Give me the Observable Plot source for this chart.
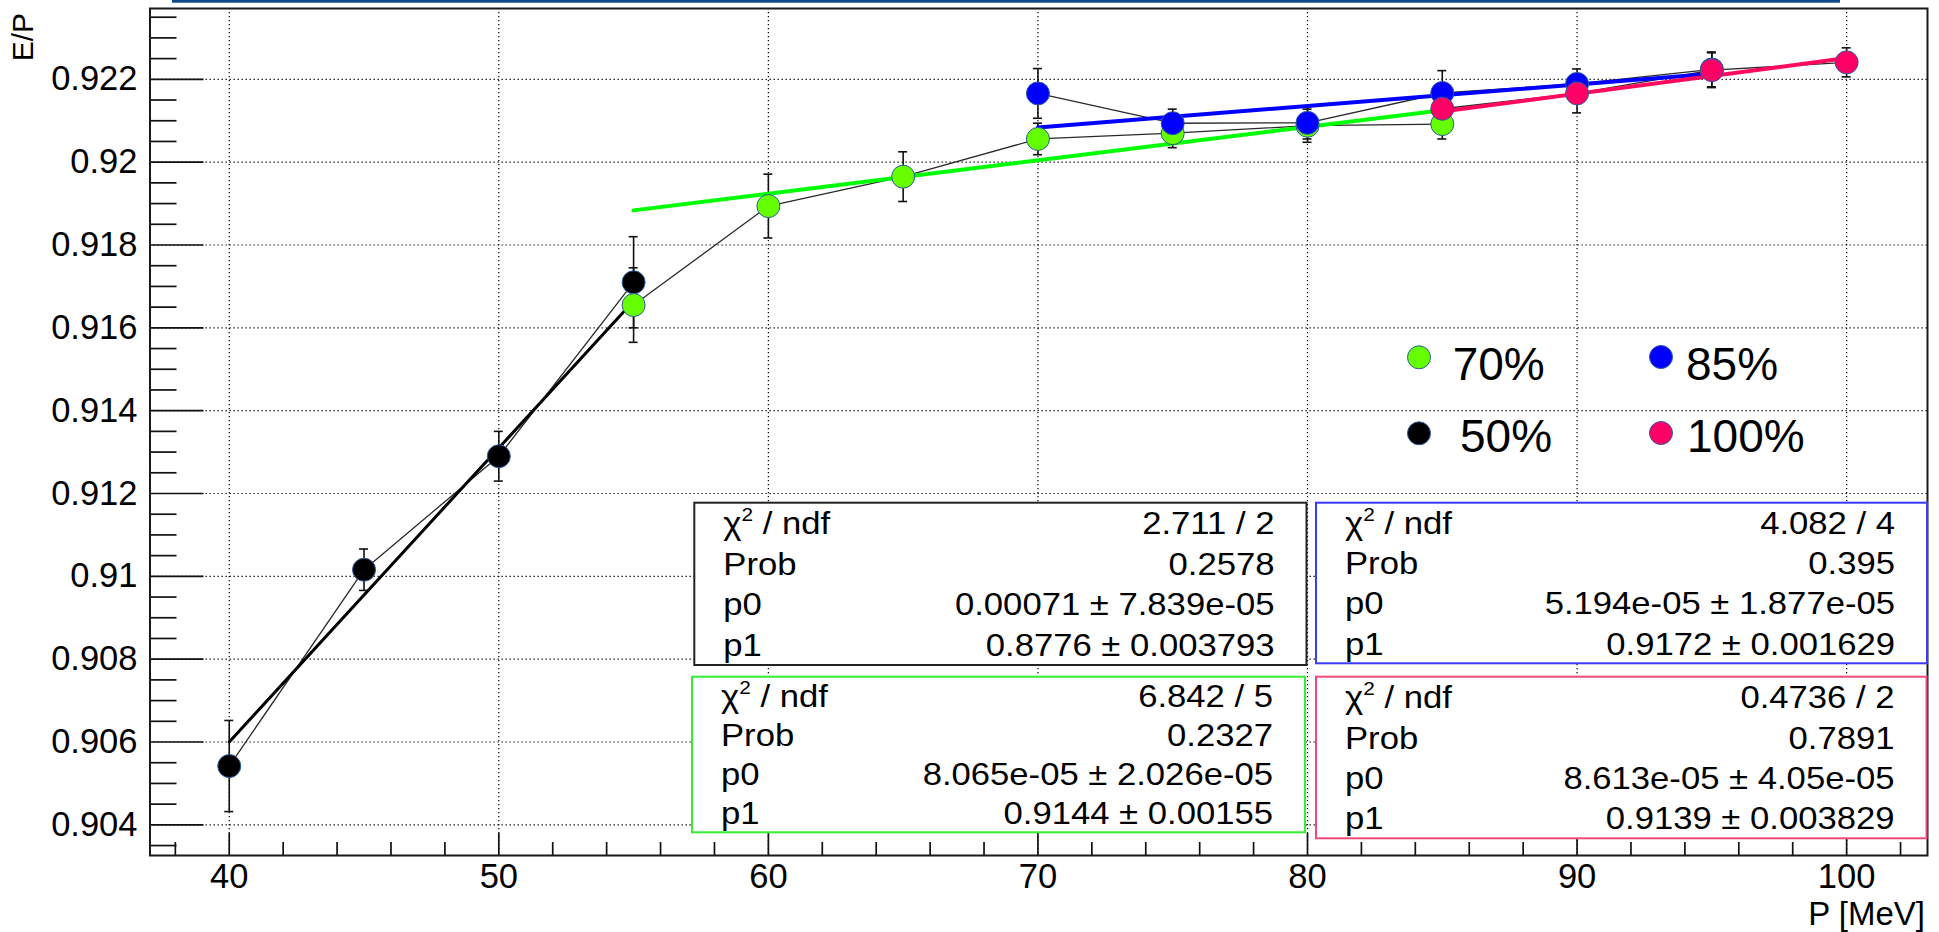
<!DOCTYPE html>
<html>
<head>
<meta charset="utf-8">
<script src="https://cdn.jsdelivr.net/npm/d3@7"></script>
<script src="https://cdn.jsdelivr.net/npm/@observablehq/plot@0.6"></script>
<style>
  body { margin: 0; background: #fff; }
  #chart { position: relative; width: 1939px; height: 932px; overflow: hidden;
           font-family: "Liberation Sans", Arial, Helvetica, sans-serif; }
  #chart svg { position: absolute; left: 0; top: 0; }
</style>
</head>
<body>
<div id="chart"></div>
<script>
// E/P versus beam momentum for four threshold settings, each with a linear fit
const series    = ["50%", "70%", "85%", "100%"];
const colors    = ["#000000", "#66ff00", "#0000ff", "#ff0066"];
const fitColors = ["#000000", "#00ff00", "#0000ff", "#ff0a5e"];
const boxColors = ["#222222", "#33ee33", "#3a3aff", "#ee4a78"];

const P50  = [40, 45, 50, 55];
const E50  = [0.90542, 0.91016, 0.91290, 0.91710];
const dE50 = [0.0011, 0.0005, 0.0006, 0.0011];

const P70  = [55, 60, 65, 70, 75, 80, 85];
const E70  = [0.91655, 0.91894, 0.91965, 0.92056, 0.92070, 0.92088, 0.92092];
const dE70 = [0.0009, 0.00077, 0.0006, 0.00038, 0.00035, 0.0004, 0.00036];

const P85  = [70, 75, 80, 85, 90, 95];
const E85  = [0.92166, 0.92094, 0.92095, 0.92167, 0.92189, 0.92224];
const dE85 = [0.0006, 0.00034, 0.00039, 0.00054, 0.00036, 0.00042];

const P100  = [85, 90, 95, 100];
const E100  = [0.92129, 0.92166, 0.92222, 0.92241];
const dE100 = [0.0004, 0.00047, 0.00042, 0.00035];

// fit results: E/P = p1 + p0 * P, over [fitLo, fitHi]
const fitLo     = [40, 55, 70, 85];
const fitHi     = [55, 85, 95, 100];
const chi2Text  = ["2.711 / 2", "6.842 / 5", "4.082 / 4", "0.4736 / 2"];
const probText  = ["0.2578", "0.2327", "0.395", "0.7891"];
const p0        = [0.00071, 8.065e-05, 5.194e-05, 8.613e-05];
const p0Text    = ["0.00071", "8.065e-05", "5.194e-05", "8.613e-05"];
const p0ErrText = ["7.839e-05", "2.026e-05", "1.877e-05", "4.05e-05"];
const p1        = [0.8776, 0.9144, 0.9172, 0.9139];
const p1Text    = ["0.8776", "0.9144", "0.9172", "0.9139"];
const p1ErrText = ["0.003793", "0.00155", "0.001629", "0.003829"];

const xTicks = [40, 50, 60, 70, 80, 90, 100];
const yTicks = [0.904, 0.906, 0.908, 0.910, 0.912, 0.914, 0.916, 0.918, 0.920, 0.922];

// ---- tables for the marks ----
const Ps = [P50, P70, P85, P100], Es = [E50, E70, E85, E100], dEs = [dE50, dE70, dE85, dE100];
const rows = series.flatMap((s, i) => Ps[i].map((p, j) => ({series: s, idx: i, P: p, E: Es[i][j], dE: dEs[i][j]})));
const fitRows = series.flatMap((s, i) => [fitLo[i], fitHi[i]].map(p => ({series: s, idx: i, P: p, E: p1[i] + p0[i] * p})));

// minor tick positions (every 2 MeV on x, every 0.0005 on y)
const xMinor = d3.range(38, 103, 2).filter(v => !xTicks.includes(v));
const yMinor = d3.range(1807, 1848).filter(k => k % 4 !== 0).map(k => k * 0.0005);

// ---- layout ----
const W = 1939, H = 932;
const mL = 149.5, mR = 12, mT = 8, mB = 77;
const frameW = W - mL - mR, frameH = H - mT - mB;

const tickStyle = {stroke: "#111", strokeWidth: 1.7};
const gridStyle = {stroke: "#000", strokeWidth: 1.2, strokeDasharray: "1.3,2.7"};

const chart = Plot.plot({
  width: W, height: H,
  marginLeft: mL, marginRight: mR, marginTop: mT, marginBottom: mB,
  style: {fontSize: "34.5px", fontFamily: "Liberation Sans, Arial, sans-serif", background: "transparent", color: "#000"},
  x: {domain: [37.06, 103.0], ticks: xTicks, tickSize: 0, tickPadding: 8, label: null},
  y: {domain: [0.90326, 0.92371], ticks: yTicks, tickSize: 0, tickPadding: 12.5, label: null,
      tickFormat: d => String(+d.toFixed(3))},
  marks: [
    Plot.ruleX(xTicks, gridStyle),
    Plot.ruleY(yTicks, gridStyle),
    Plot.ruleX(xMinor, {...tickStyle, insetTop: frameH - 13}),
    Plot.ruleX(xTicks, {...tickStyle, insetTop: frameH - 22}),
    Plot.ruleY(yMinor, {...tickStyle, insetRight: frameW - 27}),
    Plot.ruleY(yTicks, {...tickStyle, insetRight: frameW - 54}),
    Plot.frame({stroke: "#1a1a1a", strokeWidth: 2}),
    // graphs: connecting lines and error bars
    Plot.line(rows, {x: "P", y: "E", z: "series", stroke: "#2a2a2a", strokeWidth: 1.3}),
    Plot.ruleX(rows, {x: "P", y1: d => d.E - d.dE, y2: d => d.E + d.dE, stroke: "#111", strokeWidth: 1.6}),
    Plot.ruleY(rows, {y: d => d.E - d.dE, x1: "P", x2: "P", insetLeft: -4.5, insetRight: -4.5, stroke: "#111", strokeWidth: 1.6}),
    Plot.ruleY(rows, {y: d => d.E + d.dE, x1: "P", x2: "P", insetLeft: -4.5, insetRight: -4.5, stroke: "#111", strokeWidth: 1.6}),
    // fitted straight lines
    ...series.map((s, i) => Plot.line(fitRows.filter(d => d.idx === i),
      {x: "P", y: "E", stroke: fitColors[i], strokeWidth: i === 0 ? 3 : 4})),
    // markers
    ...series.map((s, i) => Plot.dot(rows.filter(d => d.idx === i),
      {x: "P", y: "E", r: 11.5, fill: colors[i], stroke: "#2d5c9e", strokeWidth: 1}))
  ]
});
document.getElementById("chart").appendChild(chart);

// ---- annotations: axis titles, legend, fit statistics boxes ----
const ov = d3.select("#chart").append("svg")
  .attr("width", W).attr("height", H)
  .style("pointer-events", "none")
  .attr("font-family", "Liberation Sans, Arial, sans-serif");

// lower edge of the title box above the frame
ov.append("rect").attr("x", 172).attr("y", 0).attr("width", 1668).attr("height", 2.7).attr("fill", "#0c4a8a");

ov.append("text").attr("transform", "translate(33,13) rotate(-90)")
  .attr("text-anchor", "end").attr("font-size", 30).text("E/P");
ov.append("text").attr("x", 1925).attr("y", 924.5)
  .attr("text-anchor", "end").attr("font-size", 33).text("P [MeV]");

// legend
const legendPos = [
  {cx: 1419, cy: 433.3, tx: 1460, ty: 452},   // 50%
  {cx: 1419, cy: 357.3, tx: 1452.7, ty: 380}, // 70%
  {cx: 1661, cy: 357,   tx: 1686, ty: 380},   // 85%
  {cx: 1661, cy: 433,   tx: 1687, ty: 452}    // 100%
];
series.forEach((s, i) => {
  const L = legendPos[i];
  ov.append("circle").attr("cx", L.cx).attr("cy", L.cy).attr("r", 11.5)
    .attr("fill", colors[i]).attr("stroke", "#2d5c9e").attr("stroke-width", 1);
  ov.append("text").attr("x", L.tx).attr("y", L.ty).attr("font-size", 46).text(s);
});

// statistics boxes
const boxPos = [
  {x0: 694.3, y0: 502.7, x1: 1306.5, y1: 665},
  {x0: 692,   y0: 676.7, x1: 1305,   y1: 832.3},
  {x0: 1316,  y0: 502.7, x1: 1927,   y1: 663.3},
  {x0: 1316,  y0: 676.7, x1: 1926.5, y1: 838.3}
];
const statFont = 31.5, stretch = 1.1;
series.forEach((s, i) => {
  const b = boxPos[i];
  ov.append("rect").attr("x", b.x0).attr("y", b.y0)
    .attr("width", b.x1 - b.x0).attr("height", b.y1 - b.y0)
    .attr("fill", "#fff").attr("stroke", boxColors[i]).attr("stroke-width", 2);
  const values = [chi2Text[i], probText[i],
                  p0Text[i] + " \u00b1 " + p0ErrText[i],
                  p1Text[i] + " \u00b1 " + p1ErrText[i]];
  const rowH = (b.y1 - b.y0) / 4;
  values.forEach((v, r) => {
    const base = b.y0 + (r + 0.5) * rowH + 0.358 * statFont;
    const gl = ov.append("g").attr("transform", `translate(${b.x0 + 29},${base}) scale(${stretch},1)`);
    const tl = gl.append("text").attr("font-size", statFont);
    if (r === 0) {
      tl.append("tspan").text("\u03c7");
      tl.append("tspan").attr("font-size", statFont * 0.6).attr("dy", -13).text("2");
      tl.append("tspan").attr("dy", 13).text(" / ndf");
    } else {
      tl.text(["", "Prob", "p0", "p1"][r]);
    }
    ov.append("g").attr("transform", `translate(${b.x1 - 32},${base}) scale(${stretch},1)`)
      .append("text").attr("font-size", statFont).attr("text-anchor", "end").text(v);
  });
});
</script>
</body>
</html>
